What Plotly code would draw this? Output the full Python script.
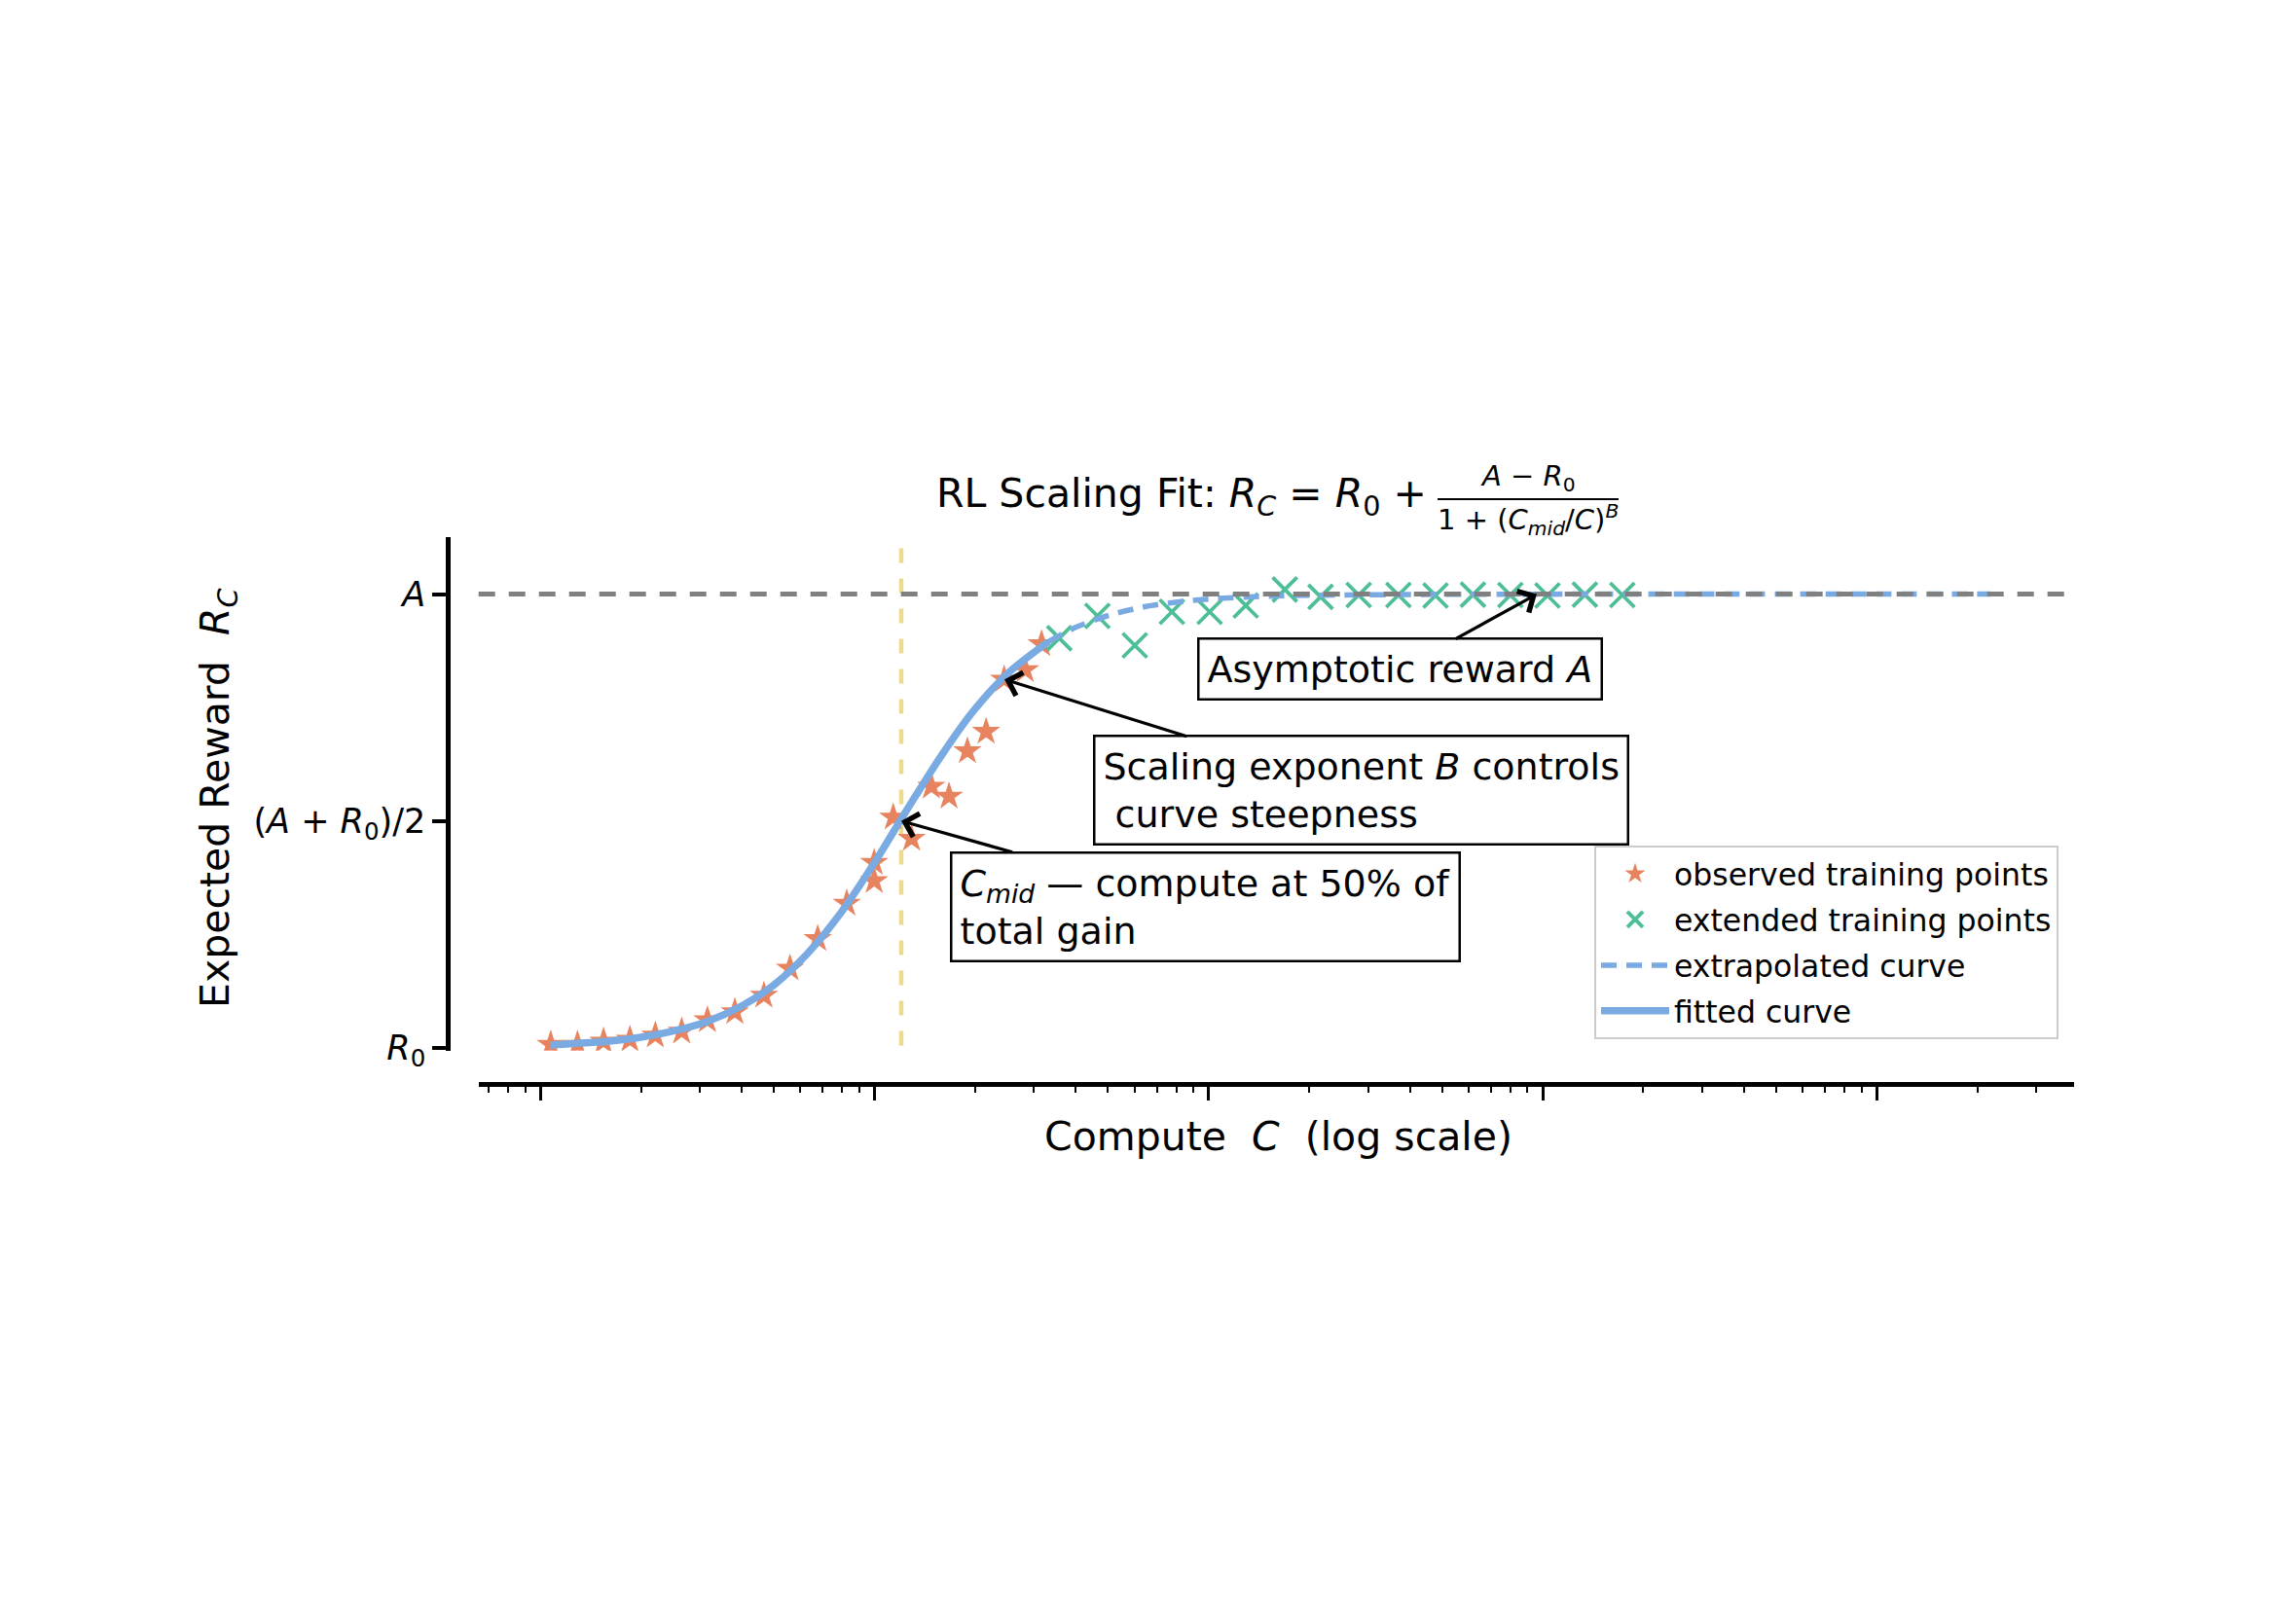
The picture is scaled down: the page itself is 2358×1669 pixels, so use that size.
import plotly.graph_objects as go

# ---------------- data ----------------
# reward axis normalised: R0 = 0, A = 1, midpoint = 0.5
R0, A = 0.0, 1.0
ytick_vals = [0.0, 0.5, 1.0]
ytick_text = ["<i>R</i><sub>0</sub>", "(<i>A</i> + <i>R</i><sub>0</sub>)/2", "<i>A</i>"]

cmid_log10 = 2.08

obs_log10_compute = [1.031, 1.111, 1.189, 1.268, 1.344, 1.423, 1.500, 1.582, 1.669, 1.747,
                     1.830, 1.917, 1.999, 1.999, 2.056, 2.111, 2.170, 2.223, 2.278, 2.334,
                     2.388, 2.451, 2.500]
obs_reward = [0.007, 0.007, 0.014, 0.018, 0.027, 0.036, 0.061, 0.079, 0.115, 0.175,
              0.240, 0.318, 0.368, 0.408, 0.508, 0.461, 0.576, 0.554, 0.654, 0.697,
              0.812, 0.833, 0.890]

ext_log10_compute = [2.553, 2.667, 2.779, 2.890, 3.003, 3.111, 3.228, 3.335, 3.449, 3.568,
                     3.679, 3.791, 3.903, 4.014, 4.126, 4.238]
ext_reward = [0.903, 0.952, 0.887, 0.961, 0.961, 0.975, 1.010, 0.994, 0.998, 0.998,
              0.997, 0.999, 0.998, 0.997, 0.999, 0.998]

fit_log10_compute = [1.03, 1.1, 1.2, 1.3, 1.4, 1.5, 1.6, 1.7, 1.8, 1.9, 2.0, 2.1, 2.2, 2.3, 2.4, 2.52]
fit_reward = [0.006, 0.009, 0.014, 0.023, 0.037, 0.058, 0.091, 0.139, 0.208, 0.298,
              0.408, 0.528, 0.644, 0.746, 0.826, 0.895]

extrap_log10_compute = [2.52, 2.6, 2.7, 2.8, 2.9, 3.0, 3.2, 3.4, 3.7, 4.0, 4.5, 5.0, 5.34]
extrap_reward = [0.895, 0.926, 0.953, 0.971, 0.982, 0.989, 0.996, 0.998, 0.9995, 0.9999,
                 1.0, 1.0, 1.0]

to_compute = lambda logs: [10 ** v for v in logs]

# ---------------- layout geometry (screen pixels of the reference) ----------------
FONT = "DejaVu Sans"
W, H = 2358, 1669          # browser window
BODY = 8                   # default page margin around the plot div
FW, FH = W - 2 * BODY, H - 2 * BODY
PLOT_L, PLOT_R, PLOT_T, PLOT_B = 460, 2131, 552, 1114   # plot area on screen
PW, PH = PLOT_R - PLOT_L, PLOT_B - PLOT_T


def px2x(px):
    return (px - PLOT_L) / PW


def py2y(py):
    return (PLOT_B - py) / PH


C_STAR = "#E8835F"
C_CROSS = "#4DBE96"
C_CURVE = "#7AAAE2"
C_GRAY = "#808080"
C_YELLOW = "#EEDA8C"

fig = go.Figure()

fig.add_trace(go.Scatter(
    x=to_compute(obs_log10_compute), y=obs_reward, mode="markers",
    name="observed training points", legendrank=1, legendgroup="g1",
    marker=dict(symbol="star", size=22, color=C_STAR, line=dict(width=0)),
))
fig.add_trace(go.Scatter(
    x=to_compute(ext_log10_compute), y=ext_reward, mode="markers",
    name="extended training points", legendrank=2, legendgroup="g2",
    marker=dict(symbol="x-thin", size=25, color=C_CROSS, line=dict(width=3.8, color=C_CROSS)),
))
fig.add_trace(go.Scatter(
    x=to_compute(extrap_log10_compute), y=extrap_reward, mode="lines",
    name="extrapolated curve", legendrank=3, legendgroup="g3",
    line=dict(color=C_CURVE, width=5.5, dash="16px,10px", shape="spline", smoothing=0.8),
))
fig.add_trace(go.Scatter(
    x=to_compute(fit_log10_compute), y=fit_reward, mode="lines",
    name="fitted curve", legendrank=4, legendgroup="g4",
    line=dict(color=C_CURVE, width=7.5, shape="spline", smoothing=0.8),
))

# asymptote and midpoint guide lines
fig.add_shape(type="line", xref="x domain", yref="y", x0=0, x1=1, y0=A, y1=A,
              line=dict(color=C_GRAY, width=5, dash="17px,14px"), layer="above")
fig.add_shape(type="line", xref="x", yref="y domain", x0=10 ** cmid_log10, x1=10 ** cmid_log10,
              y0=0.01, y1=0.985, line=dict(color=C_YELLOW, width=4.5, dash="15px,16px"), layer="below")

# annotations with arrows (log axis -> annotation coords in log10)
ann_font = dict(family=FONT, size=38, color="black")
box = dict(bgcolor="white", bordercolor="black", borderwidth=2.5, borderpad=8,
           showarrow=True, arrowhead=4, arrowsize=1.5, arrowwidth=3.2, arrowcolor="black",
           xref="x", yref="y", axref="x", ayref="y", font=ann_font, align="left")

fig.add_annotation(x=3.982, y=A, ax=3.574, ay=0.834,
                   text="Asymptotic reward <i>A</i>", **box)
fig.add_annotation(x=2.389, y=0.812, ax=3.455, ay=0.567,
                   text="Scaling exponent <i>B</i> controls<br>\u00a0curve steepness", **box)
fig.add_annotation(x=cmid_log10, y=0.5, ax=2.990, ay=0.3115,
                   text="<i>C</i><sub><i>mid</i></sub> \u2014 compute at 50% of<br>total gain", **box)

# title (with stacked fraction)
fig.add_annotation(xref="paper", yref="paper", x=px2x(1468), y=py2y(510), xanchor="right",
                   yanchor="middle", showarrow=False,
                   text="RL Scaling Fit: <i>R</i><sub><i>C</i></sub> = <i>R</i><sub>0</sub> +",
                   font=dict(family=FONT, size=41, color="black"))
fig.add_annotation(xref="paper", yref="paper", x=px2x(1570), y=py2y(491), xanchor="center",
                   yanchor="middle", showarrow=False,
                   text="<i>A</i> \u2212 <i>R</i><sub>0</sub>",
                   font=dict(family=FONT, size=29, color="black"))
fig.add_annotation(xref="paper", yref="paper", x=px2x(1570), y=py2y(534), xanchor="center",
                   yanchor="middle", showarrow=False,
                   text="1 + (<i>C</i><sub><i>mid</i></sub>/<i>C</i>)<sup><i>B</i></sup>",
                   font=dict(family=FONT, size=29, color="black"))
fig.add_shape(type="line", xref="paper", yref="paper", x0=px2x(1477), x1=px2x(1663),
              y0=py2y(513), y1=py2y(513), line=dict(color="black", width=2))

# axis titles
fig.add_annotation(xref="paper", yref="paper", x=px2x(1313), y=py2y(1168), showarrow=False,
                   xanchor="center", yanchor="middle",
                   text="Compute\u00a0\u00a0<i>C</i>\u00a0\u00a0(log scale)",
                   font=dict(family=FONT, size=41, color="black"))
fig.add_annotation(xref="paper", yref="paper", x=px2x(224), y=py2y(820), showarrow=False,
                   xanchor="center", yanchor="middle", textangle=-90,
                   text="Expected Reward\u00a0\u00a0<i>R</i><sub><i>C</i></sub>",
                   font=dict(family=FONT, size=41, color="black"))

fig.update_layout(
    width=FW, height=FH,
    margin=dict(l=PLOT_L - BODY, r=FW - (PLOT_R - BODY), t=PLOT_T - BODY,
                b=FH - (PLOT_B - BODY), pad=0),
    paper_bgcolor="white", plot_bgcolor="white",
    font=dict(family=FONT, color="black"),
    showlegend=True,
    legend=dict(x=px2x(2115), y=py2y(869), xanchor="right", yanchor="top",
                bgcolor="rgba(255,255,255,0.85)", bordercolor="#cccccc", borderwidth=2,
                font=dict(family=FONT, size=31.5, color="black"), itemwidth=70,
                tracegroupgap=3, traceorder="grouped"),
    xaxis=dict(
        type="log", range=[0.815, 5.59], domain=[px2x(491.7), 1.0],
        anchor="free", position=0.0,
        showgrid=False, zeroline=False, showticklabels=False,
        showline=True, linecolor="black", linewidth=4.5,
        ticks="outside", ticklen=14, tickwidth=2.5, tickcolor="black", dtick=1,
        minor=dict(ticks="outside", ticklen=6, tickwidth=1.5, tickcolor="black",
                   dtick="D1", showgrid=False),
    ),
    yaxis=dict(
        range=[-0.0064, 1.1257], domain=[py2y(1079.7), 1.0],
        anchor="free", position=0.0,
        showgrid=False, zeroline=False,
        showline=True, linecolor="black", linewidth=4.5,
        ticks="outside", ticklen=14, tickwidth=4, tickcolor="black",
        tickvals=ytick_vals, ticktext=ytick_text,
        tickfont=dict(family=FONT, size=35, color="black"),
    ),
)

fig.write_html("out.html")
